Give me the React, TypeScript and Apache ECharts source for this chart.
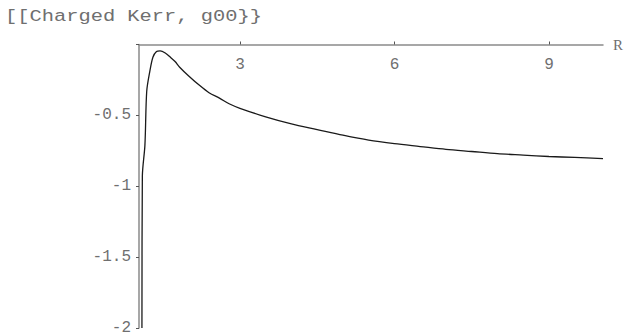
import React, { useEffect, useRef } from "react";
import * as echarts from "echarts";

// Radial coordinate R and the metric component g00 along the curve
const rValues = [1.097, 1.105, 1.155, 1.19, 1.25, 1.31, 1.38, 1.45, 1.55, 1.65, 1.74, 1.83, 2.0, 2.22, 2.4, 2.61, 2.8, 3.0, 3.5, 4.0, 4.5, 5.0, 5.5, 6.0, 6.5, 7.0, 7.5, 8.0, 8.5, 9.0, 9.5, 10.05];
const g00Values = [-2.0, -0.93, -0.71, -0.33, -0.19, -0.09, -0.05, -0.045, -0.06, -0.09, -0.12, -0.16, -0.22, -0.29, -0.34, -0.38, -0.42, -0.45, -0.51, -0.56, -0.6, -0.64, -0.675, -0.7, -0.72, -0.74, -0.755, -0.77, -0.78, -0.79, -0.797, -0.805];

const xTicks = [3, 6, 9];
const yTickLabels: Record<string, string> = { "-0.5": "-0.5", "-1": "-1", "-1.5": "-1.5", "-2": "-2" };
const titleText = "[[Charged Kerr, g00}}";

const MONO = "'Liberation Mono', 'DejaVu Sans Mono', monospace";

export default function App() {
  const ref = useRef<HTMLDivElement>(null);

  useEffect(() => {
    if (!ref.current) return;
    const chart = echarts.init(ref.current, null, { renderer: "svg" });
    const data = rValues.map((r, i) => [r, g00Values[i]]);
    chart.setOption({
      animation: false,
      backgroundColor: "#ffffff",
      grid: { left: 139, right: 28, top: 44.5, bottom: 3, containLabel: false },
      graphic: [
        {
          type: "text",
          left: 5,
          top: 8,
          scaleX: 1.2,
          style: {
            text: titleText,
            font: `17px ${MONO}`,
            fill: "#6f6f6f",
          },
        },
      ],
      xAxis: {
        type: "value",
        position: "top",
        min: 1.04,
        max: 10.05,
        splitLine: { show: false },
        axisLine: { onZero: false, lineStyle: { color: "#8a8a8a", width: 1.5 } },
        axisTick: {
          show: true,
          inside: false,
          length: 3,
          customValues: xTicks,
          lineStyle: { color: "#555" },
        },
        axisLabel: {
          inside: true,
          margin: 12,
          customValues: xTicks,
          color: "#6f6f6f",
          fontFamily: MONO,
          fontSize: 16,
        },
        name: "R",
        nameLocation: "end",
        nameGap: 10,
        nameTextStyle: {
          fontFamily: "'Liberation Serif', serif",
          fontSize: 15,
          color: "#6f6f6f",
          verticalAlign: "middle",
        },
      },
      yAxis: {
        type: "value",
        min: -2,
        max: 0,
        interval: 0.5,
        splitLine: { show: false },
        axisLine: { onZero: false, lineStyle: { color: "#8a8a8a", width: 1.5 } },
        axisTick: { show: true, length: 3, lineStyle: { color: "#555" } },
        axisLabel: {
          margin: 8,
          color: "#6f6f6f",
          fontFamily: MONO,
          fontSize: 16,
          formatter: (v: number) => yTickLabels[String(v)] ?? "",
        },
      },
      series: [
        {
          type: "line",
          data,
          showSymbol: false,
          smooth: 0.3,
          clip: true,
          lineStyle: { color: "#1a1a1a", width: 1.3 },
        },
      ],
    });
    return () => chart.dispose();
  }, []);

  return <div ref={ref} style={{ width: 631, height: 336, position: "absolute", left: 0, top: 0 }} />;
}
